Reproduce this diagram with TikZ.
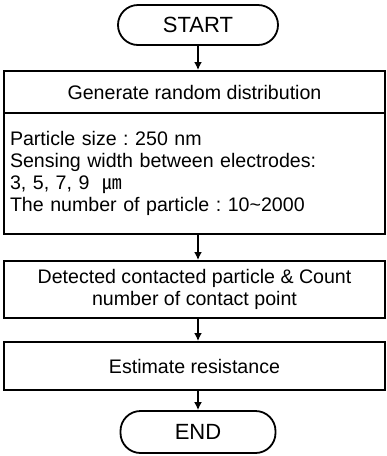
\documentclass[tikz,border=0pt]{standalone}
\usepackage{fontspec}
\setmainfont{Liberation Sans}
\newfontfamily\cjkfont{Noto Sans CJK KR}
\usetikzlibrary{arrows.meta}
\frenchspacing
\begin{document}
\begin{tikzpicture}[x=1pt,y=-1pt,
  every node/.style={font=\fontsize{19.6}{22}\selectfont},
  terminal/.style={draw, line width=1.8pt, rounded corners=20pt, minimum width=160pt, minimum height=40pt, inner sep=0pt, font=\fontsize{22}{24}\selectfont},
  stepbox/.style={draw, line width=2pt, minimum width=381pt, inner sep=0pt, align=center},
  flow/.style={line width=1.6pt, -{Latex[length=8pt,width=8pt]}}
]
\useasboundingbox (0,0) rectangle (387,456);

\node[terminal] (start) at (198,25) {START};
\node[stepbox, minimum height=42pt] (gen) at (194.5,92) {Generate random distribution};
\node[stepbox, minimum height=121pt, text width=369pt, align=left] (params) at (194.5,173.5)
  {Particle size : 250 nm\\
   Sensing width between electrodes:\\
   3, 5, 7, 9 \ {\cjkfont ㎛}\\
   The number of particle : 10\char`~2000};
\node[stepbox, minimum height=57pt] (detect) at (194.5,289.5)
  {Detected contacted particle \& Count\\number of contact point};
\node[stepbox, minimum height=48pt] (est) at (194.5,366) {Estimate resistance};
\node[terminal, minimum width=155pt, minimum height=42pt] (end) at (198,432) {END};

\draw[flow] (start.south) -- (start.south |- gen.north);
\draw[flow] (params.south -| start) -- (start |- detect.north);
\draw[flow] (detect.south -| start) -- (start |- est.north);
\draw[flow] (est.south -| start) -- (end.north);
\end{tikzpicture}
\end{document}
